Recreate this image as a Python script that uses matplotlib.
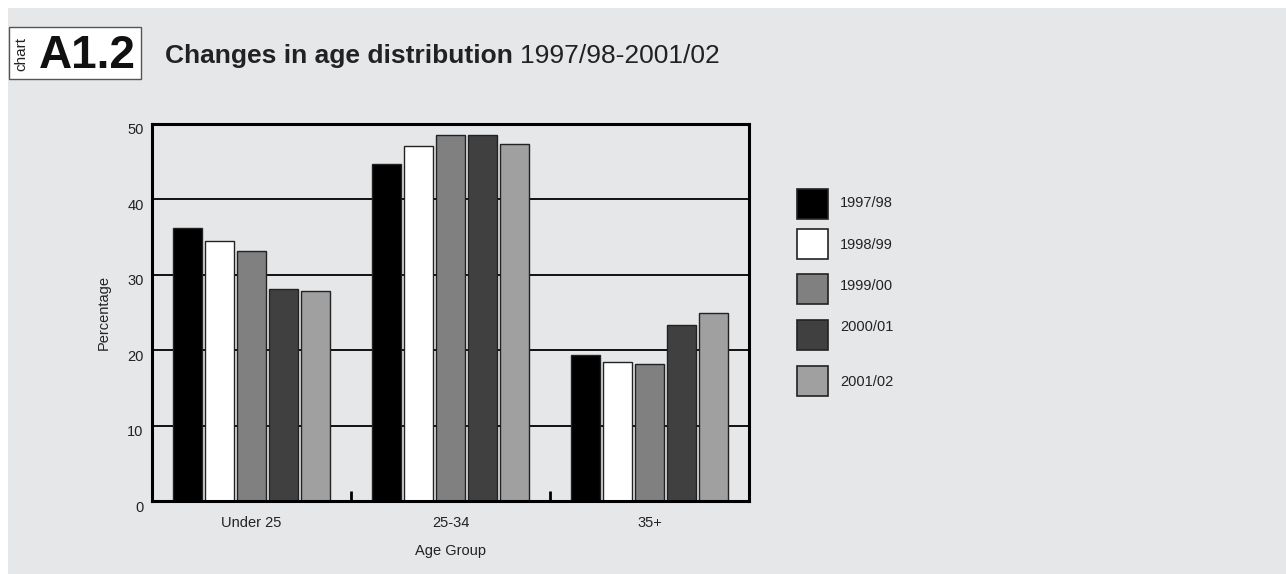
import matplotlib
matplotlib.use("Agg")
import matplotlib.pyplot as plt
import matplotlib.transforms as mtransforms
from matplotlib.patches import Rectangle
import numpy as np

# data
age_groups = ["Under 25", "25-34", "35+"]
years = ["1997/98", "1998/99", "1999/00", "2000/01", "2001/02"]
pct_9798 = [36.2, 44.7, 19.3]
pct_9899 = [34.5, 47.1, 18.4]
pct_9900 = [33.1, 48.6, 18.2]
pct_0001 = [28.1, 48.6, 23.3]
pct_0102 = [27.8, 47.3, 25.0]
series = [pct_9798, pct_9899, pct_9900, pct_0001, pct_0102]
y_ticks = [0, 10, 20, 30, 40, 50]

bar_colors = ["#000000", "#ffffff", "#808080", "#404040", "#a0a0a0"]
bg = "#e6e7e9"
txt = "#222222"

plt.rcParams['font.family'] = ['Liberation Sans', 'DejaVu Sans']

W, H = 1286, 574
fig = plt.figure(figsize=(W / 100, H / 100), dpi=100, facecolor="white")

def px(x, y, w=0, h=0):
    # pixel box (top-left origin) -> figure fraction
    return x / W, 1 - (y + h) / H, w / W, h / H

# gray panel behind everything
fig.patches.append(Rectangle((8 / W, 0), 1, 1 - 8 / H, transform=fig.transFigure,
                             facecolor=bg, edgecolor="none", zorder=-10))

# heading box
bx, by, bw, bh = px(9, 27, 132, 52)
fig.patches.append(Rectangle((bx, by), bw, bh, transform=fig.transFigure,
                             facecolor="white", edgecolor="#555555", lw=1, zorder=1))
fig.text(21 / W, 1 - 54 / H, "chart", rotation=90, ha="center", va="center",
         fontsize=11, color=txt)
fig.text(87 / W, 1 - 68 / H, "A1.2", ha="center", va="baseline",
         fontsize=33, fontweight="bold", color="#111111")
t1 = fig.text(165 / W, 1 - 63 / H, "Changes in age distribution ", ha="left",
              va="baseline", fontsize=19, fontweight="bold", color=txt)
fig.canvas.draw()
ext = t1.get_window_extent()
fig.text(ext.x1 / W, 1 - 63 / H, "1997/98-2001/02", ha="left", va="baseline",
         fontsize=19, color=txt)

# axes
ax = fig.add_axes([152 / W, 1 - 501 / H, (749 - 152) / W, (501 - 124) / H])
ax.set_facecolor(bg)

x = np.arange(len(age_groups))
pitch = 0.161
width = 0.146
for k, vals in enumerate(series):
    ax.bar(x + (k - 2) * pitch, vals, width, color=bar_colors[k],
           edgecolor="#222222", linewidth=1.0, zorder=3, label=years[k])

ax.set_xlim(-0.5, 2.5)
ax.set_ylim(0, 50)
ax.set_yticks(y_ticks)
ax.yaxis.grid(True, color="black", lw=1.3, zorder=0)
ax.set_axisbelow(True)
for s in ax.spines.values():
    s.set_linewidth(2.2)
    s.set_color("black")
    s.set_zorder(5)

ax.set_xticks(x)
ax.set_xticklabels(age_groups)
ax.set_xticks([0.5, 1.5], minor=True)
ax.tick_params(axis="x", which="major", length=0, pad=11, labelsize=10.5, labelcolor=txt)
ax.tick_params(axis="x", which="minor", direction="in", length=7, width=2, color="black")
ax.tick_params(axis="y", length=0, pad=6, labelsize=10.5, labelcolor=txt)
offset = mtransforms.ScaledTranslation(0, -5 / 100, fig.dpi_scale_trans)
for lab in ax.get_yticklabels():
    lab.set_transform(lab.get_transform() + offset)

ax.set_xlabel("Age Group", fontsize=10.5, labelpad=10, color=txt)
ax.set_ylabel("Percentage", fontsize=10.5, labelpad=12, color=txt)

# legend, drawn by hand to keep the uneven spacing
patch_tops = [189, 229, 274, 320, 366]
label_y = [203, 245, 286, 327, 382]
for k in range(len(years)):
    lx, ly, lw_, lh = px(797, patch_tops[k], 31, 30)
    fig.patches.append(Rectangle((lx, ly), lw_, lh, transform=fig.transFigure,
                                 facecolor=bar_colors[k], edgecolor="#222222",
                                 lw=1.2, zorder=2))
    fig.text(840 / W, 1 - label_y[k] / H, years[k], ha="left", va="center",
             fontsize=10.5, color=txt)

fig.savefig("out.png", dpi=100, facecolor=fig.get_facecolor())
